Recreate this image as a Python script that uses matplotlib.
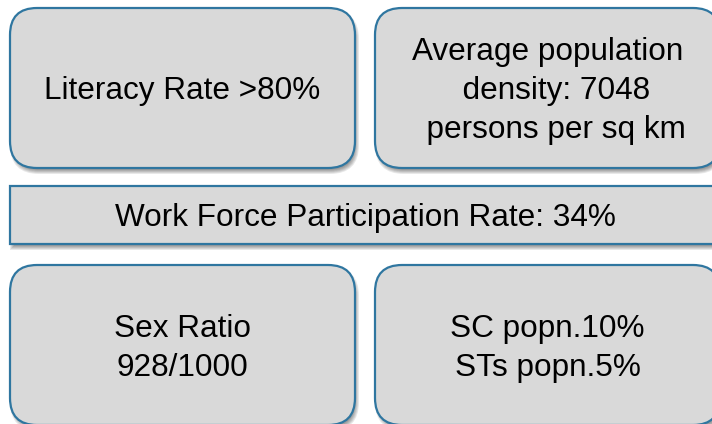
import matplotlib
matplotlib.use("Agg")
import matplotlib.pyplot as plt
from matplotlib.patches import FancyBboxPatch

# Text for each panel (top row, middle band, bottom row)
top_texts = [["Literacy Rate >80%"],
             ["Average population", "  density: 7048", "  persons per sq km"]]
band_text = "Work Force Participation Rate: 34%"
bottom_texts = [["Sex Ratio", "928/1000"],
                ["SC popn.10%", "STs popn.5%"]]

# Layout in pixels (y goes down)
col_x = [10, 375]
box_w, box_h = 345, 160
top_y, band_y, bottom_y = 8, 186, 265
band_h = 58
radius = 27
fill = "#d9d9d9"
edge = "#2f76a0"
fsize = 22.7
line_gap = 39

plt.rcParams["font.family"] = ["Liberation Sans", "DejaVu Sans"]

fig = plt.figure(figsize=(7.12, 4.24), dpi=100)
ax = fig.add_axes([0, 0, 1, 1])
ax.set_xlim(0, 712)
ax.set_ylim(424, 0)
ax.axis("off")


def draw_box(x, y, w, h, rnd):
    style = "round,pad=0,rounding_size=%g" % rnd if rnd else "square,pad=0"
    # soft shadow
    for s in range(5):
        grow = s - 2
        st = ("round,pad=%g,rounding_size=%g" % (grow, rnd + grow)) if rnd else "square,pad=%g" % grow
        ax.add_patch(FancyBboxPatch((x + 2, y + 4), w, h, boxstyle=st,
                                    facecolor="black", edgecolor="none", alpha=0.09, zorder=1))
    ax.add_patch(FancyBboxPatch((x, y), w, h, boxstyle=style,
                                facecolor=fill, edgecolor=edge, linewidth=1.6, zorder=2))


def draw_lines(cx, cy, lines):
    n = len(lines)
    for i, line in enumerate(lines):
        base = cy + 0.358 * fsize * 100 / 72 + (i - (n - 1) / 2) * line_gap
        ax.text(cx, base, line, ha="center", va="baseline", fontsize=fsize, color="black", zorder=3)


for x, lines in zip(col_x, top_texts):
    draw_box(x, top_y, box_w, box_h, radius)
    draw_lines(x + box_w / 2, top_y + box_h / 2, lines)

draw_box(10, band_y, 710, band_h, 0)
draw_lines(10 + 710 / 2, band_y + band_h / 2, [band_text])

for x, lines in zip(col_x, bottom_texts):
    draw_box(x, bottom_y, box_w, box_h, radius)
    draw_lines(x + box_w / 2, bottom_y + box_h / 2, lines)

fig.savefig("out.png", dpi=100)
